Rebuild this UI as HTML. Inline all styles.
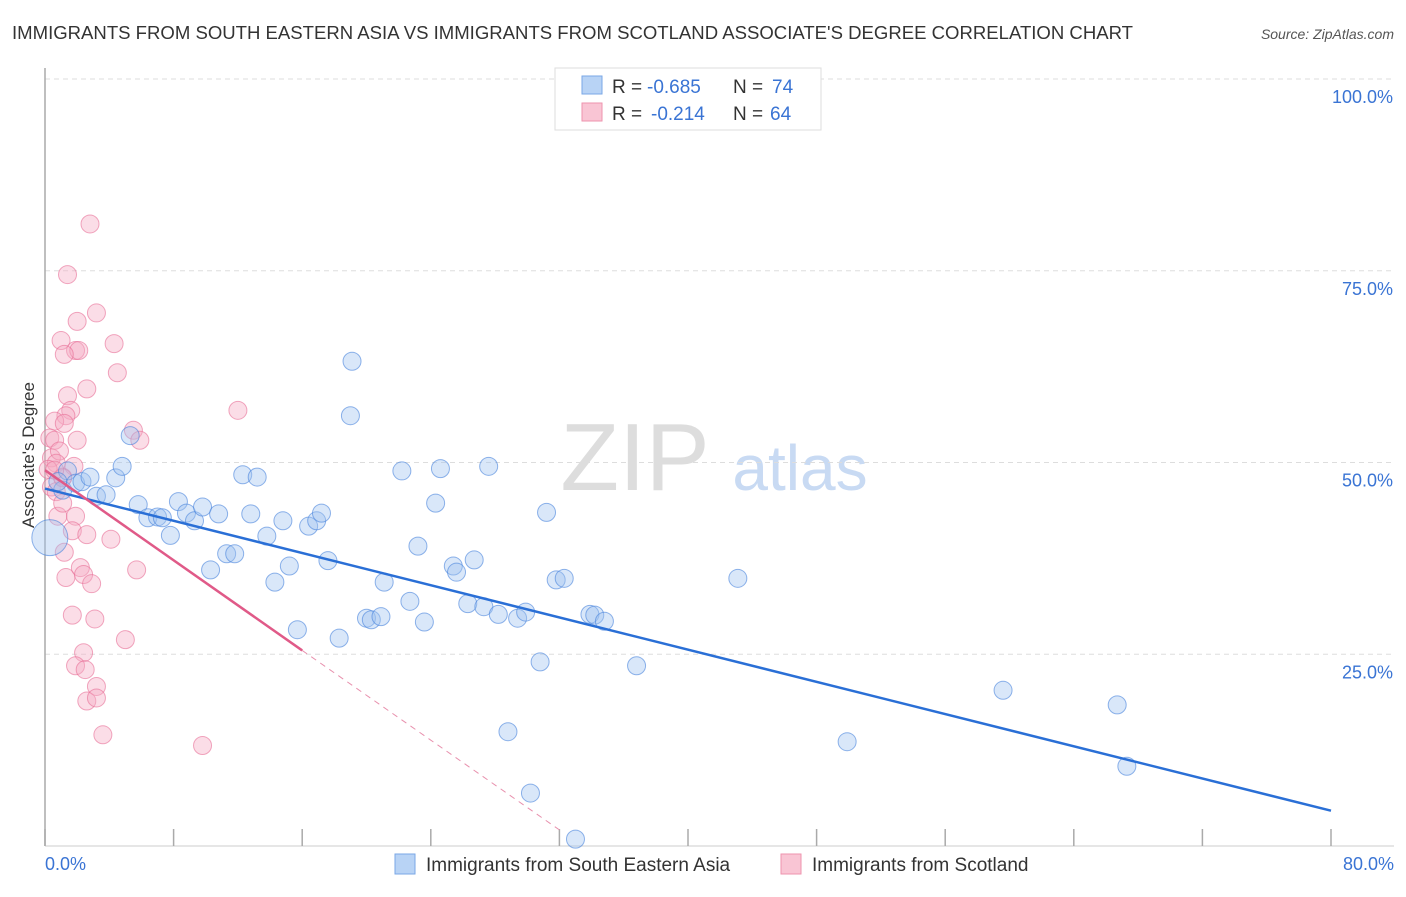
<!DOCTYPE html>
<html><head><meta charset="utf-8"><style>
body{margin:0;background:#fff;font-family:"Liberation Sans",sans-serif;}
svg text{font-family:"Liberation Sans",sans-serif;}
</style></head><body>
<svg width="1406" height="892" viewBox="0 0 1406 892" id="chart">
<text x="12" y="39" font-size="18" fill="#333" textLength="1121" lengthAdjust="spacingAndGlyphs">IMMIGRANTS FROM SOUTH EASTERN ASIA VS IMMIGRANTS FROM SCOTLAND ASSOCIATE'S DEGREE CORRELATION CHART</text>
<text x="1394" y="39" font-size="14" fill="#555" font-style="italic" text-anchor="end">Source: ZipAtlas.com</text>
<text x="34" y="455" font-size="17" fill="#333" text-anchor="middle" transform="rotate(-90 34 455)">Associate's Degree</text>
<text x="635" y="490" font-size="96" fill="#ddd" font-family="Liberation Serif" text-anchor="middle">ZIP</text>
<text x="800" y="490" font-size="64" fill="#c8daf3" text-anchor="middle">atlas</text>
<g id="grid"></g><g id="marks"></g>
<g>
<rect x="555" y="68" width="266" height="62" fill="#fff" stroke="#ddd"/>
<rect x="582" y="76" width="20" height="18" fill="#b8d3f5" stroke="#7aa7e6"/>
<rect x="582" y="103" width="20" height="18" fill="#f9c5d4" stroke="#ee93ae"/>
<text x="612" y="93" font-size="19" fill="#333">R =</text>
<text x="647" y="93" font-size="19" fill="#3a74d4">-0.685</text>
<text x="733" y="93" font-size="19" fill="#333">N =</text>
<text x="772" y="93" font-size="19" fill="#3a74d4">74</text>
<text x="612" y="120" font-size="19" fill="#333">R =</text>
<text x="651" y="120" font-size="19" fill="#3a74d4">-0.214</text>
<text x="733" y="120" font-size="19" fill="#333">N =</text>
<text x="770" y="120" font-size="19" fill="#3a74d4">64</text>
</g>
<g>
<rect x="395" y="854" width="20" height="20" fill="#b8d3f5" stroke="#7aa7e6"/>
<text x="426" y="871" font-size="19" fill="#333">Immigrants from South Eastern Asia</text>
<rect x="781" y="854" width="20" height="20" fill="#f9c5d4" stroke="#ee93ae"/>
<text x="812" y="871" font-size="19" fill="#333">Immigrants from Scotland</text>
</g>
</svg>
<script>
const xTicks=[0,8,16,24,32,40,48,56,64,72,80];
const yTicks=[25,50,75,100];
const yTickLabels=["25.0%","50.0%","75.0%","100.0%"];
const blueX=[0.3,1.4,1.1,0.8,1.9,2.3,2.8,3.2,3.8,4.4,4.8,5.3,5.8,6.4,7.0,7.3,7.8,8.3,8.8,9.3,9.8,10.3,10.8,11.3,11.8,12.3,12.8,13.2,13.8,14.3,14.8,15.2,15.7,16.4,16.9,17.2,17.6,18.3,19.0,19.1,20.0,20.3,20.9,21.1,22.2,22.7,23.2,23.6,24.3,24.6,25.4,25.6,26.3,26.7,27.3,27.6,28.2,28.8,29.4,29.9,30.2,30.8,31.2,31.8,32.3,33.0,33.9,34.2,34.8,36.8,43.1,49.9,59.6,66.7,67.3];
const blueY=[40.2,48.9,46.4,47.5,47.3,47.5,48.1,45.6,45.8,48.0,49.5,53.5,44.5,42.8,42.9,42.8,40.5,44.9,43.4,42.4,44.2,36.0,43.3,38.1,38.1,48.4,43.3,48.1,40.4,34.4,42.4,36.5,28.2,41.7,42.4,43.4,37.2,27.1,56.1,63.2,29.7,29.5,29.9,34.4,48.9,31.9,39.1,29.2,44.7,49.2,36.5,35.7,31.6,37.3,31.2,49.5,30.2,14.9,29.7,30.5,6.9,24.0,43.5,34.7,34.9,0.9,30.2,30.1,29.3,23.5,34.9,13.6,20.3,18.4,10.4];
const pinkX=[2.8,1.4,3.2,2.0,1.0,1.9,2.1,4.3,4.5,1.2,2.6,1.4,1.6,1.3,0.6,1.2,0.3,0.6,2.0,5.5,5.9,12.0,0.4,0.9,0.7,0.2,1.1,1.8,0.4,0.7,1.1,0.8,1.1,1.9,1.7,2.6,4.1,1.2,1.3,2.2,2.4,2.9,5.7,1.7,3.1,5.0,2.4,1.9,2.5,3.2,2.6,3.2,3.6,9.8,0.6];
const pinkY=[81.1,74.5,69.5,68.4,65.9,64.6,64.6,65.5,61.7,64.1,59.6,58.7,56.8,56.1,55.4,55.1,53.2,52.9,52.9,54.2,52.9,56.8,50.6,51.5,49.9,49.1,48.1,49.5,46.8,46.2,48,43,44.7,43,41.1,40.6,40,38.3,35,36.3,35.4,34.2,36,30.1,29.6,26.9,25.2,23.5,23,20.8,18.9,19.3,14.5,13.1,49];
const blueTrend=[46.6,4.6];
const pinkTrend=[49.0,25.5];
const pinkDashEnd=[32,2.1];

const X0=45,X1=1331,YB=846,YT=79;
const sx=v=>X0+(v/80)*(X1-X0);
const sy=v=>YB-(v/100)*(YB-YT);
const NS="http://www.w3.org/2000/svg";
function mk(t,a,parent){const e=document.createElementNS(NS,t);for(const k in a)e.setAttribute(k,a[k]);parent.appendChild(e);return e;}
const grid=document.getElementById('grid'),marks=document.getElementById('marks');
yTicks.forEach((v,i)=>{
 const l=mk('line',{x1:X0,x2:1394,y1:sy(v),y2:sy(v),stroke:'#ddd','stroke-dasharray':'5,4'},grid);
 
 
 const t=mk('text',{x:1393,y:sy(v)+24,'font-size':18,fill:'#3a74d4','text-anchor':'end'},grid);
 t.textContent=yTickLabels[i];
 
 
});
const ax=mk('line',{x1:X0,x2:X0,y1:68,y2:YB,stroke:'#aaa','stroke-width':1.5},grid);


const bx=mk('line',{x1:X0,x2:1394,y1:YB,y2:YB,stroke:'#ccc'},grid);


xTicks.forEach(v=>{
 const t=mk('line',{x1:sx(v),x2:sx(v),y1:829,y2:YB,stroke:'#aaa','stroke-width':1.5},grid);
 
 
});
const xl=mk('text',{x:45,y:870,'font-size':18,fill:'#3a74d4'},grid);xl.textContent='0.0%';


const xr=mk('text',{x:1394,y:870,'font-size':18,fill:'#3a74d4','text-anchor':'end'},grid);xr.textContent='80.0%';



pinkX.forEach((v,i)=>{
 const c=mk('circle',{cx:sx(v),cy:sy(pinkY[i]),r:9,fill:'rgba(246,170,195,0.4)',stroke:'rgba(232,110,150,0.6)','stroke-width':1},marks);
 
 
});
blueX.forEach((v,i)=>{
 const c=mk('circle',{cx:sx(v),cy:sy(blueY[i]),r:i===0?18:9,fill:'rgba(160,195,240,0.4)',stroke:'rgba(70,130,220,0.6)','stroke-width':1},marks);
 
 
});
const bl=mk('line',{x1:sx(0),y1:sy(blueTrend[0]),x2:sx(80),y2:sy(blueTrend[1]),stroke:'#2a6fd6','stroke-width':2.5},marks);


const pl=mk('line',{x1:sx(0),y1:sy(pinkTrend[0]),x2:sx(16),y2:sy(pinkTrend[1]),stroke:'#e05a88','stroke-width':2.5},marks);


const pd=mk('line',{x1:sx(16),y1:sy(pinkTrend[1]),x2:sx(pinkDashEnd[0]),y2:sy(pinkDashEnd[1]),stroke:'#e890ad','stroke-width':1,'stroke-dasharray':'6,5'},marks);


</script>
</body></html>
